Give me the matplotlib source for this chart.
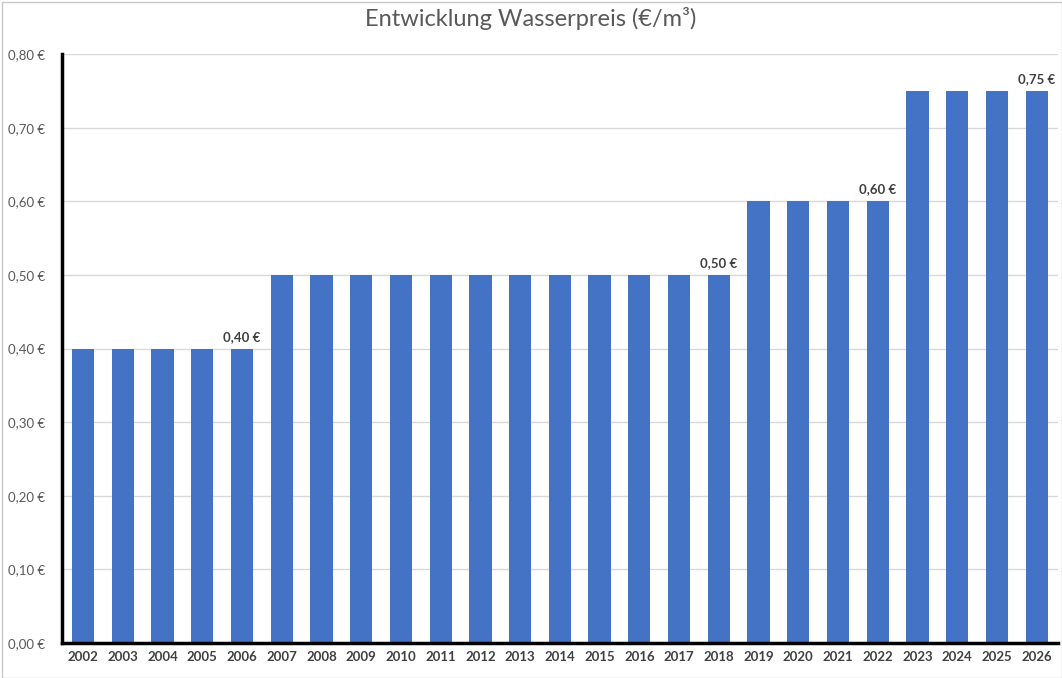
import matplotlib.pyplot as plt
import numpy as np

plt.rcParams['font.family'] = ['Lato', 'DejaVu Sans']

years = [str(y) for y in range(2002, 2027)]
prices = [0.40, 0.40, 0.40, 0.40, 0.40,
          0.50, 0.50, 0.50, 0.50, 0.50, 0.50, 0.50, 0.50, 0.50, 0.50, 0.50, 0.50,
          0.60, 0.60, 0.60, 0.60,
          0.75, 0.75, 0.75, 0.75]
labelled = ['2006', '2018', '2022', '2026']

fig = plt.figure(figsize=(10.62, 6.78), dpi=100)
ax = fig.add_axes([0.0584, 0.0516, 0.9376, 0.8686])

x = np.arange(len(years))
ax.bar(x, prices, width=0.56, color='#4472C4', zorder=2)

for i, (yr, p) in enumerate(zip(years, prices)):
    if yr in labelled:
        ax.text(i, p + 0.008, f'{p:.2f} €'.replace('.', ','), ha='center', va='bottom',
                fontsize=9.5, fontweight='bold', color='#404040')

ax.set_xlim(-0.53, len(years) - 0.47)
ax.set_ylim(0, 0.8)
yt = np.arange(0, 0.81, 0.1)
ax.set_yticks(yt)
ax.set_yticklabels([f'{v:.2f} €'.replace('.', ',') for v in yt], fontsize=9.5, color='#595959')
ax.set_xticks(x)
ax.set_xticklabels(years, fontsize=9.5, fontweight='bold', color='#404040')
ax.tick_params(length=0, pad=6)
ax.tick_params(axis='y', pad=12)

ax.grid(axis='y', color='#d9d9d9', linewidth=1, zorder=0)
for s in ['top', 'right']:
    ax.spines[s].set_visible(False)
ax.spines['left'].set_linewidth(2.5)
ax.spines['bottom'].set_linewidth(2.5)
ax.spines['left'].set_color('black')
ax.spines['bottom'].set_color('black')

fig.text(0.5, 0.972, 'Entwicklung Wasserpreis (€/m³)', ha='center', va='center',
         fontsize=17, color='#595959')

# outer border like the screenshot
fig.patches.append(plt.Rectangle((0.002, 0), 0.998, 0.997, transform=fig.transFigure,
                                 fill=False, edgecolor='#c8c8c8', linewidth=1))

fig.savefig('out.png', dpi=100)
